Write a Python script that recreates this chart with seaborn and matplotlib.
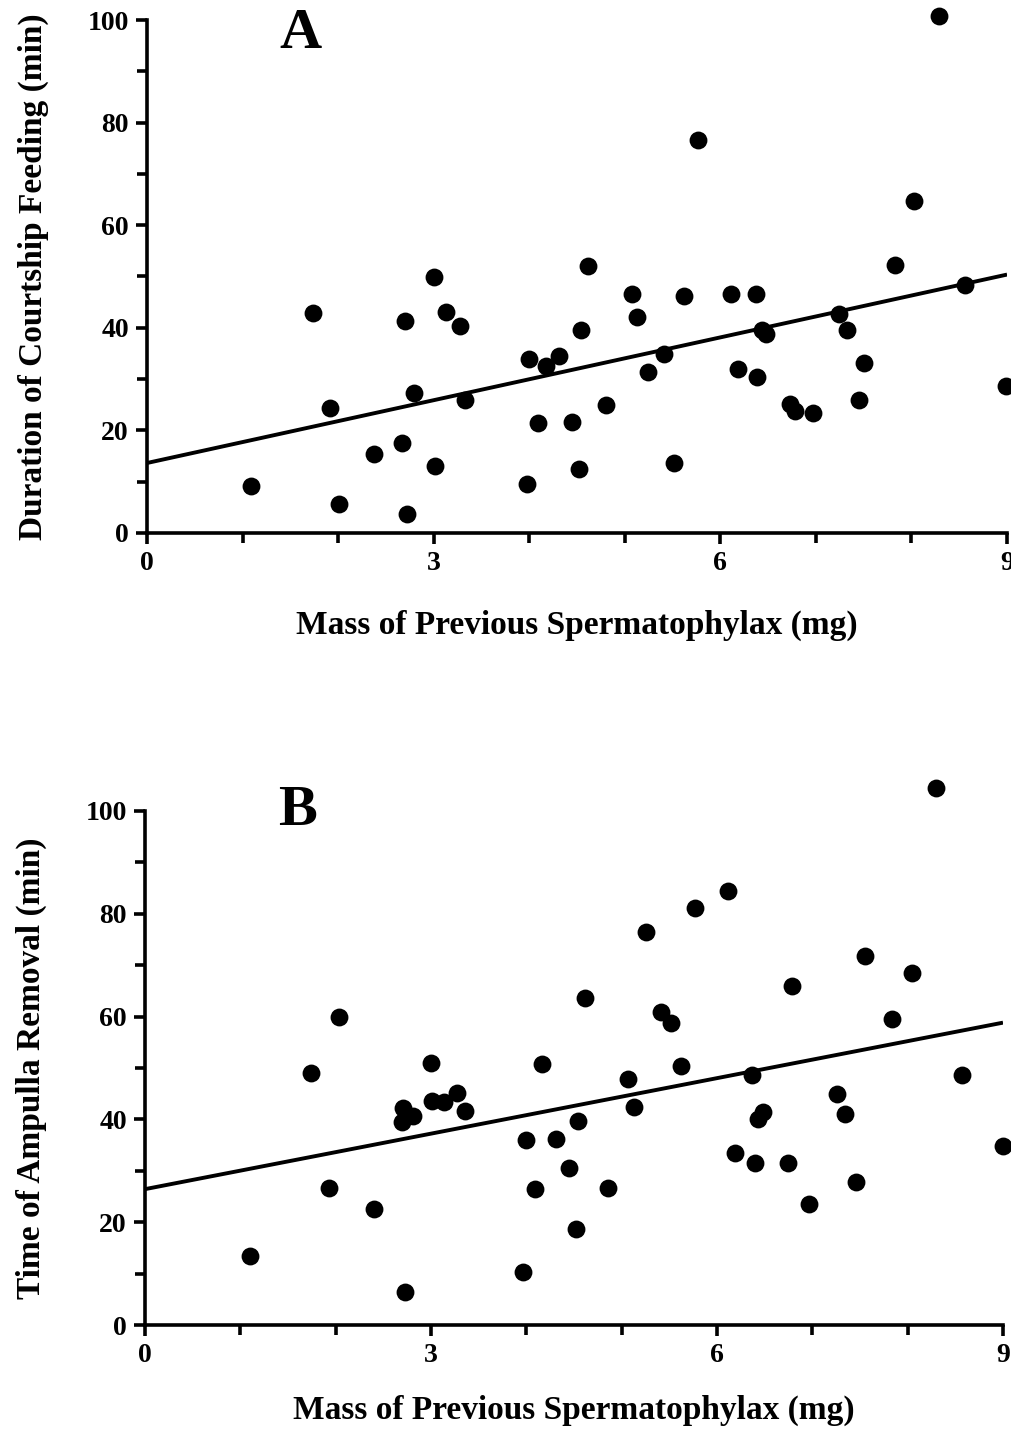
import matplotlib
matplotlib.use("Agg")
import matplotlib.pyplot as plt
import seaborn as sns
import numpy as np

# ---- data ----
mass_a = [1.09, 1.74, 1.91, 2.01, 2.38, 2.67, 2.70, 2.72, 2.79, 3.00, 3.01, 3.13, 3.28, 3.33,
          8.29, 5.77, 8.03, 4.61, 7.83, 5.07, 5.62, 6.11, 6.37, 5.13, 7.24, 8.56, 4.54, 6.44,
          6.48, 7.32, 4.00, 4.17, 4.31, 5.41, 5.24, 6.18, 6.38, 7.50, 8.99, 4.80, 6.73, 6.78,
          6.97, 7.45, 4.09, 4.45, 4.52, 5.51, 3.98]
feeding = [9.2, 42.8, 24.4, 5.7, 15.3, 17.6, 41.4, 3.7, 27.2, 49.9, 13.1, 43.1, 40.4, 25.9,
           100.7, 76.6, 64.7, 52.0, 52.2, 46.5, 46.1, 46.6, 46.5, 42.1, 42.6, 48.4, 39.5, 39.5,
           38.7, 39.5, 33.9, 32.5, 34.5, 34.8, 31.3, 32.0, 30.5, 33.2, 28.7, 24.9, 25.2, 23.7,
           23.3, 25.9, 21.4, 21.6, 12.5, 13.6, 9.6]

mass_b = [1.10, 1.74, 2.03, 1.93, 2.40, 2.73, 2.71, 2.70, 2.81, 3.00, 3.01, 3.14, 3.27, 3.36,
          8.30, 6.12, 5.77, 5.25, 7.55, 8.05, 6.79, 4.62, 5.41, 5.52, 7.84, 4.16, 5.62, 8.57,
          5.07, 6.37, 5.13, 7.26, 7.34, 6.48, 6.43, 4.54, 4.00, 4.31, 9.00, 6.19, 6.40, 6.74,
          4.45, 4.09, 4.86, 7.46, 6.97, 4.52, 3.97]
removal = [13.5, 49.1, 60.0, 26.6, 22.6, 6.4, 42.2, 39.4, 40.7, 50.9, 43.6, 43.4, 45.2, 41.7,
           104.5, 84.4, 81.2, 76.5, 71.7, 68.5, 66.0, 63.6, 60.8, 58.8, 59.5, 50.7, 50.4, 48.7,
           47.8, 48.6, 42.5, 45.0, 41.0, 41.4, 40.0, 39.6, 36.0, 36.2, 34.9, 33.5, 31.6, 31.6,
           30.5, 26.5, 26.7, 27.8, 23.6, 18.7, 10.3]

x_major = [0, 3, 6, 9]
x_minor = [1, 2, 4, 5, 7, 8]
y_major = [0, 20, 40, 60, 80, 100]
y_minor = [10, 30, 50, 70, 90]

xlabel = "Mass of Previous Spermatophylax (mg)"
ylabel_a = "Duration of Courtship Feeding (min)"
ylabel_b = "Time of Ampulla Removal (min)"

sns.set_style("ticks")
plt.rcParams['font.family'] = ['Liberation Serif', 'DejaVu Serif']
plt.rcParams['font.weight'] = 'bold'
plt.rcParams['axes.labelweight'] = 'bold'
for k in ['text.color', 'axes.labelcolor', 'xtick.color', 'ytick.color', 'axes.edgecolor']:
    plt.rcParams[k] = 'black'

fig = plt.figure(figsize=(10.12, 14.3), dpi=100)
axA = fig.add_axes([0.1453, 0.6273, 0.8498, 0.3587])
axB = fig.add_axes([0.1433, 0.0734, 0.8478, 0.3595])

panels = [(axA, mass_a, feeding, ylabel_a, "A", 0.972, 24),
          (axB, mass_b, removal, ylabel_b, "B", 1.0, 19)]

for ax, x, y, ylab, letter, ly, xpad in panels:
    ax.set_xlim(0, 9)
    ax.set_ylim(0, 100)
    sns.regplot(x=np.array(x), y=np.array(y), ax=ax, ci=None, truncate=False,
                color='black',
                scatter_kws=dict(s=165, clip_on=False, linewidths=0, alpha=1, zorder=3),
                line_kws=dict(lw=2.8, solid_capstyle='butt', zorder=2))
    ax.set_xlim(0, 9)
    ax.set_ylim(0, 100)
    sns.despine(ax=ax)
    for s in ['left', 'bottom']:
        ax.spines[s].set_linewidth(2.6)
        ax.spines[s].set_color('black')
    ax.set_xticks(x_major)
    ax.set_xticks(x_minor, minor=True)
    ax.set_yticks(y_major)
    ax.set_yticks(y_minor, minor=True)
    ax.tick_params(which='major', direction='out', length=8, width=2.6,
                   labelsize=20, color='black', labelcolor='black', pad=5)
    ax.tick_params(which='minor', direction='out', length=7, width=2.6, color='black')
    for lab in ax.get_xticklabels() + ax.get_yticklabels():
        lab.set_fontweight('bold')
    ax.set_xlabel(xlabel, fontsize=24, fontweight='bold', labelpad=xpad, color='black')
    ax.set_ylabel(ylab, fontsize=24, fontweight='bold', labelpad=28, color='black')
    ax.text(0.178, ly, letter, transform=ax.transAxes, fontsize=42,
            fontweight='bold', ha='center', va='center', color='black')

fig.savefig("out.png", dpi=100, facecolor='white')
